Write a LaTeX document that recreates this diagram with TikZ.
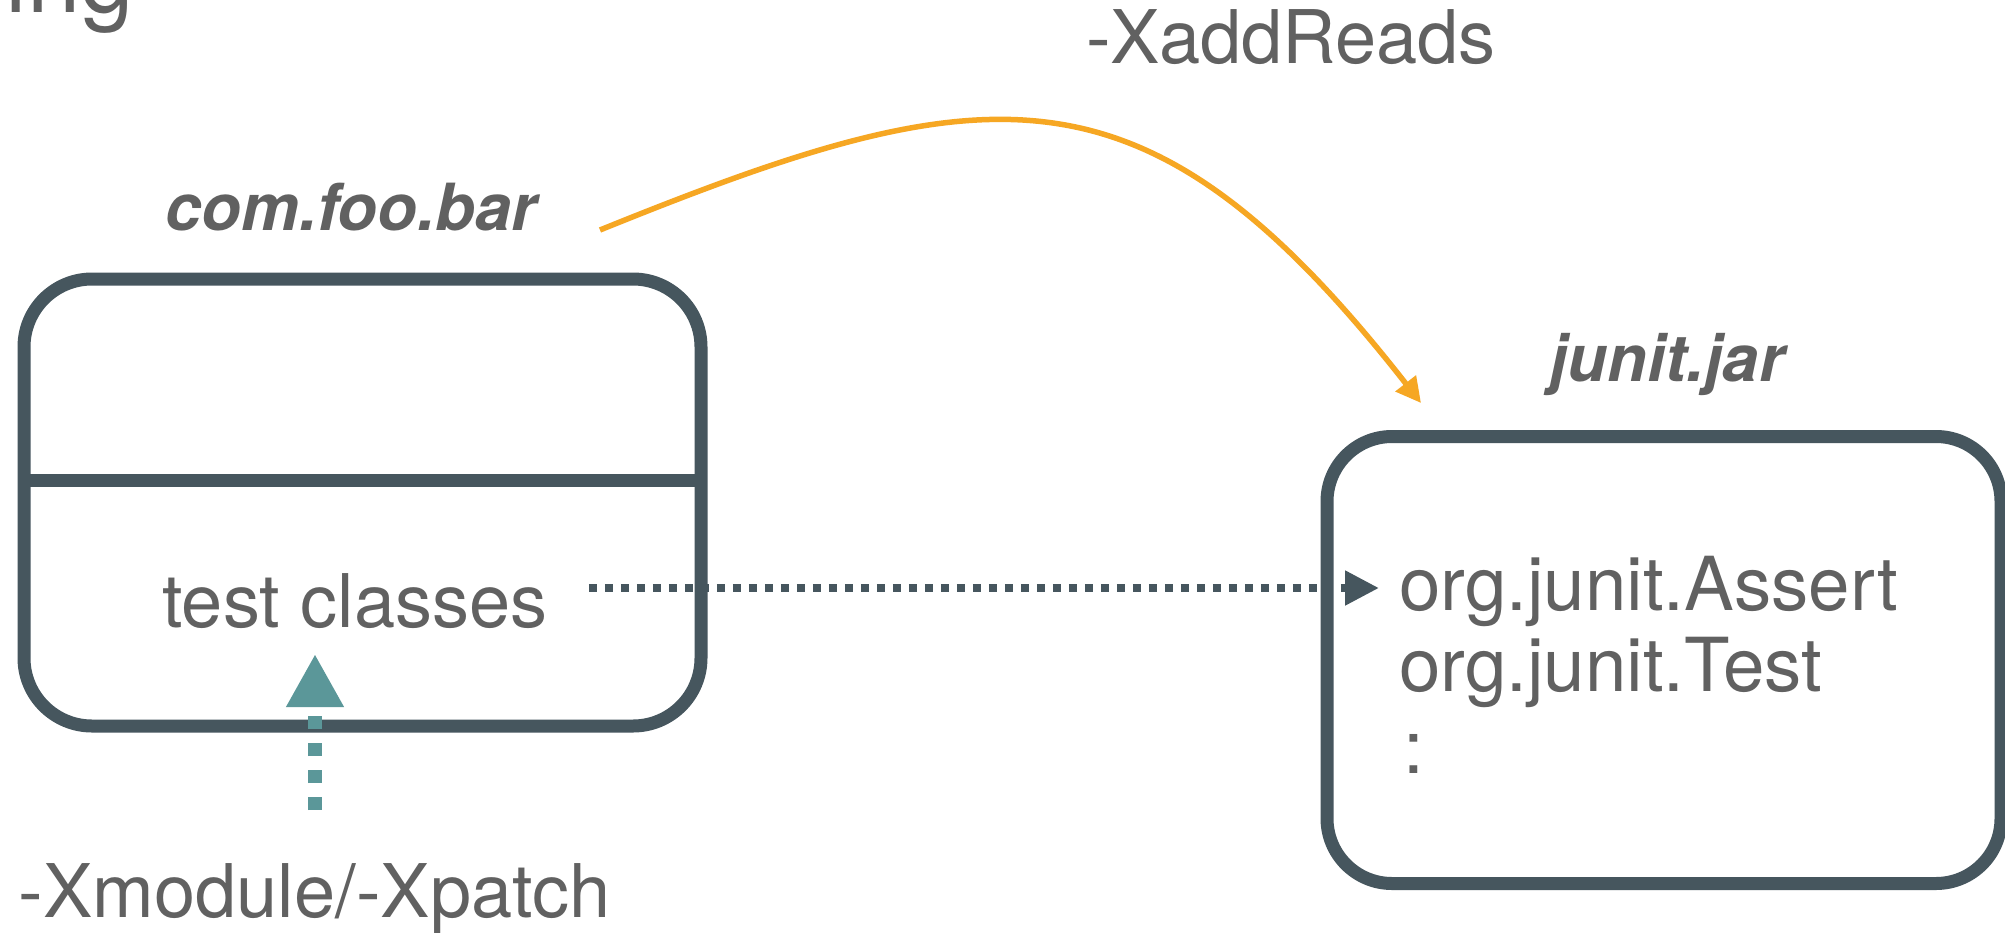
\documentclass[tikz,border=0pt]{standalone}
\usepackage{fontspec}
\setmainfont{TeX Gyre Heros}
\usetikzlibrary{arrows.meta}
\definecolor{boxc}{HTML}{46565E}
\definecolor{txtc}{HTML}{616161}
\definecolor{tealc}{HTML}{5B9799}
\definecolor{orangec}{HTML}{F6A723}
\tikzset{
  lbl/.style={inner sep=0pt, text=txtc, font={\fontsize{74}{89}\selectfont}},
  jlbl/.style={inner sep=0pt, text=txtc, font={\fontsize{74.5}{89}\selectfont}},
  modlbl/.style={inner sep=0pt, text=txtc, font={\fontsize{65}{78}\selectfont\bfseries\itshape}},
  modbox/.style={draw=boxc, line width=13pt, rounded corners=#1, inner sep=0pt},
  dotarrow/.style={draw=boxc, line width=8pt, dash pattern=on 8pt off 8pt,
    -{Triangle[length=34pt, width=33pt]}},
  patcharrow/.style={draw=tealc, line width=14pt, dash pattern=on 13pt off 14pt,
    -{Triangle[length=53pt, width=54pt]}},
  readsarrow/.style={draw=orangec, line width=5.5pt,
    -{Triangle[length=25pt, width=25pt]}}
}
\begin{document}
\begin{tikzpicture}[x=1pt, y=-1pt]
\useasboundingbox (0,0) rectangle (2005,932);
\clip (0,0) rectangle (2005,932);
\fill[white] (0,0) rectangle (2005,932);

% partial title
\node[inner sep=0pt, text=txtc, font={\fontsize{96}{115}\selectfont}, anchor=base east] (title) at (134,12) {ing};

% left module box
\node[modbox=68pt, minimum width=677pt, minimum height=447pt] (cfbbox) at (362.5,502.5) {};
\coordinate (divl) at (24,480.5);
\coordinate (divr) at (701,480.5);
\draw[boxc, line width=13pt] (divl) -- (divr);
\node[modlbl, anchor=base] (cfb) at (351,230) {com.foo.bar};
\node[lbl, anchor=base] (tc) at (355,627) {test classes};

% right module box
\node[modbox=65pt, minimum width=674pt, minimum height=447pt] (jbox) at (1664,660) {};
\node[modlbl, anchor=base] (jj) at (1667,381) {junit.jar};
\node[jlbl, anchor=base west] (assert) at (1399,610) {org.junit.Assert};
\node[jlbl, anchor=base west] (test) at (1399,691) {org.junit.Test};
\node[jlbl, anchor=base west] (more) at (1403,773) {:};

% labels
\node[lbl, anchor=base] (xadd) at (1291,63) {-XaddReads};
\node[lbl, anchor=base] (xm) at (315,917) {-Xmodule/-Xpatch};

% connectors
\draw[dotarrow, shorten <=41pt, shorten >=20pt] (tc.east |- 0,588) -- (assert.west |- 0,588);
\coordinate (xp-bot) at (315,810);
\coordinate (xp-top) at (315,654);
\draw[patcharrow] (xp-bot) -- (xp-top);
\coordinate (rd-s) at (600,230);
\coordinate (rd-e) at (1421,403);
\draw[readsarrow] (rd-s) .. controls (989,72.5) and (1145,50) .. (rd-e);
\end{tikzpicture}
\end{document}
